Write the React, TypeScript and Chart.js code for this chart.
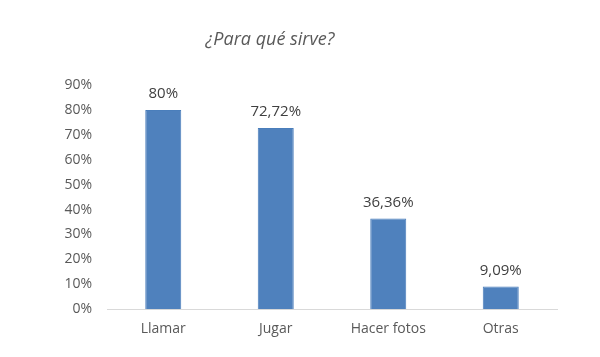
import React, { useEffect, useRef } from "react";
import { Chart, registerables } from "chart.js";

Chart.register(...registerables);

const TITLE = "¿Para qué sirve?";
const categories = ["Llamar", "Jugar", "Hacer fotos", "Otras"];
const values = [0.8, 0.7272, 0.3636, 0.0909];
const valueLabels = ["80%", "72,72%", "36,36%", "9,09%"];
const yMax = 0.9;
const yStep = 0.1;

const FONT = "'Open Sans', 'DejaVu Sans', sans-serif";

export default function App() {
  const ref = useRef<HTMLCanvasElement | null>(null);

  useEffect(() => {
    if (!ref.current) return;
    const overlay = {
      id: "overlay",
      afterDatasetsDraw(chart: any) {
        const ctx = chart.ctx;
        ctx.save();
        // title
        ctx.font = `italic 18px ${FONT}`;
        ctx.fillStyle = "#595959";
        ctx.textAlign = "center";
        ctx.textBaseline = "middle";
        ctx.fillText(TITLE, 270, 40);
        // data labels
        const meta = chart.getDatasetMeta(0);
        ctx.font = `15px ${FONT}`;
        ctx.fillStyle = "#404040";
        ctx.textBaseline = "middle";
        meta.data.forEach((bar: any, i: number) => {
          ctx.fillText(valueLabels[i], bar.x, bar.y - 16);
        });
        ctx.restore();
      },
    };

    const chart = new Chart(ref.current, {
      type: "bar",
      data: {
        labels: categories,
        datasets: [
          {
            data: values,
            backgroundColor: "#4F81BD",
            borderColor: "#4A7EBB",
            borderWidth: 1,
            categoryPercentage: 1,
            barPercentage: 0.32,
          },
        ],
      },
      options: {
        animation: false,
        responsive: false,
        maintainAspectRatio: false,
        layout: { padding: { top: 85, right: 43, bottom: 9, left: 0 } },
        plugins: {
          legend: { display: false },
          title: { display: false },
          tooltip: { enabled: false },
        },
        scales: {
          x: {
            grid: { display: false, drawTicks: false },
            border: { display: true, color: "#D9D9D9", width: 1 },
            ticks: {
              color: "#595959",
              font: { family: FONT, size: 14 },
              padding: 11,
            },
          },
          y: {
            min: 0,
            max: yMax,
            grid: { display: false, drawTicks: false },
            border: { display: false },
            afterFit(scale: any) {
              scale.width = 107;
            },
            ticks: {
              stepSize: yStep,
              color: "#595959",
              font: { family: FONT, size: 14 },
              padding: 15,
              callback: (v: any) => Math.round(Number(v) * 100) + "%",
            },
          },
        },
      },
      plugins: [overlay],
    });
    return () => chart.destroy();
  }, []);

  return (
    <div style={{ position: "fixed", left: 0, top: 0, width: 600, height: 357, background: "#fff" }}>
      <canvas ref={ref} width={600} height={357} style={{ width: 600, height: 357 }} />
    </div>
  );
}
